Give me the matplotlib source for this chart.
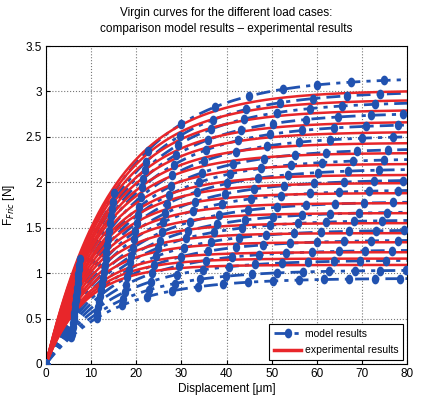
import numpy as np
import matplotlib
matplotlib.use("Agg")
import matplotlib.pyplot as plt
from matplotlib.lines import Line2D
from matplotlib.path import Path

# Final friction force levels (N) at 80 um for each load case
model_final = [3.13, 2.98, 2.87, 2.75, 2.63, 2.50, 2.36, 2.25, 2.14, 2.02,
               1.91, 1.78, 1.67, 1.58, 1.47, 1.36, 1.25, 1.14, 1.03, 0.94]
exp_final = [3.00, 2.90, 2.79, 2.66, 2.55, 2.43, 2.32, 2.20, 2.08, 1.99,
             1.88, 1.77, 1.66, 1.55, 1.44, 1.34, 1.23, 1.16, 1.09]

# Characteristic displacement (um) of each curve
model_tau = [16.5, 16.4, 16.3, 16.2, 16.1, 16.0, 15.9, 15.8, 15.7, 15.6,
             15.5, 15.4, 15.3, 15.2, 15.1, 15.0, 14.9, 14.8, 14.7, 14.6]
exp_tau = [14.5, 14.2, 13.9, 13.6, 13.3, 13.0, 12.6, 12.3, 12.0, 11.6,
           11.3, 11.0, 10.6, 10.3, 10.0, 9.6, 9.3, 9.0, 8.6]

# Displacement step between successive model output points (um)
model_step = [7.5, 7.4, 7.3, 7.2, 7.1, 7.0, 6.9, 6.8, 6.7, 6.6,
              6.5, 6.4, 6.3, 6.2, 6.1, 6.0, 5.9, 5.8, 5.7, 5.6]

x_ticks = [0, 10, 20, 30, 40, 50, 60, 70, 80]
y_ticks = [0, 0.5, 1, 1.5, 2, 2.5, 3, 3.5]
y_ticklabels = ["0", "0.5", "1", "1.5", "2", "2.5", "3", "3.5"]

BLUE = "#2152b0"
RED = "#e8262a"
DASHDOT = (0, (5, 2.2, 1.5, 2.2))

plt.rcParams["font.family"] = ["Liberation Sans", "DejaVu Sans"]

# slightly tall filled ellipse used as the model marker
_circ = Path.unit_circle()
ELLIPSE = Path(_circ.vertices * np.array([0.72, 1.0]), _circ.codes)

fig = plt.figure(figsize=(4.21, 3.99), dpi=100)
ax = fig.add_axes([46 / 421, 1 - 364 / 399, 361 / 421, 318 / 399])


def saturation(x, fin, tau):
    amp = fin / (1 - np.exp(-80.0 / tau))
    return amp * (1 - np.exp(-x / tau))


xs = np.linspace(0, 80, 400)
for fin, tau, step in zip(model_final, model_tau, model_step):
    ax.plot(xs, saturation(xs, fin, tau), color=BLUE, lw=2.0,
            ls=DASHDOT, zorder=2)
    xm = np.arange(0, 80.01, step)
    ax.plot(xm, saturation(xm, fin, tau), ls="none", marker=ELLIPSE,
            ms=6, color=BLUE, zorder=3)

for fin, tau in zip(exp_final, exp_tau):
    ax.plot(xs, saturation(xs, fin, tau), color=RED, lw=1.8, zorder=2.5)

ax.set_xlim(0, 80)
ax.set_ylim(0, 3.5)
ax.set_xticks(x_ticks)
ax.set_yticks(y_ticks)
ax.set_yticklabels(y_ticklabels)
ax.tick_params(direction="in", length=3, labelsize=8.5, pad=3)
ax.grid(True, ls=":", color="#777777", lw=0.8)
ax.set_axisbelow(True)
for s in ax.spines.values():
    s.set_linewidth(0.8)

ax.set_xlabel("Displacement [\u03bcm]", fontsize=8.5, labelpad=2)
ax.set_ylabel("F$_{Fric}$ [N]", fontsize=8.5, labelpad=6)
ax.set_title("Virgin curves for the different load cases:\n"
             "comparison model results \u2013 experimental results",
             fontsize=8.5, pad=10, linespacing=1.5)

handles = [
    Line2D([], [], color=BLUE, lw=2.0, ls=DASHDOT, marker=ELLIPSE, ms=6),
    Line2D([], [], color=RED, lw=2.5),
]
leg = ax.legend(handles, ["model results", "experimental results"],
                loc="lower right", fontsize=7.5, frameon=True, fancybox=False,
                edgecolor="black", framealpha=1, handlelength=2.6,
                handletextpad=0.3, borderaxespad=0.35, borderpad=0.5,
                labelspacing=0.6)
leg.get_frame().set_linewidth(0.8)

fig.savefig("out.png", dpi=100)
